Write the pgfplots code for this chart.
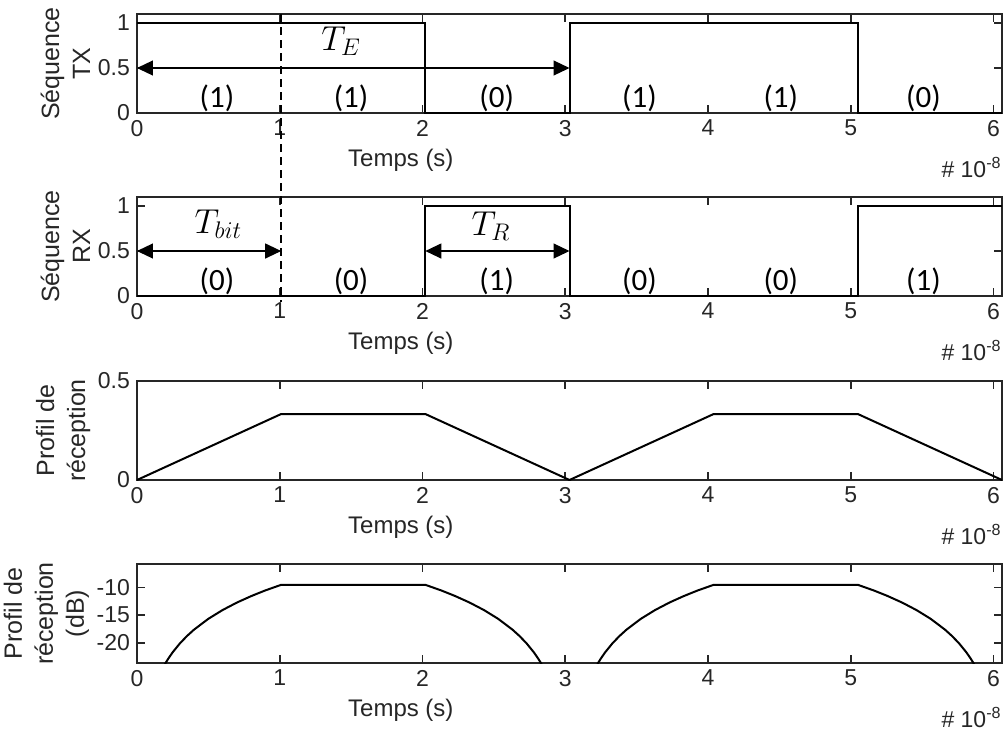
\documentclass[border=0pt]{standalone}
\usepackage{fontspec}
\setmainfont{Liberation Sans}
\newfontfamily\calibri{Carlito}
\usepackage{pgfplots}
\pgfplotsset{compat=1.18}
\usetikzlibrary{arrows.meta}

\definecolor{axgray}{RGB}{38,38,38}

\pgfplotsset{
  chrono/.style={
    scale only axis, width=432.5pt, height=49.5pt,
    anchor=south west,
    xmin=0, xmax=6.06, xtick={0,1,2,3,4,5,6},
    tick pos=both, tick align=inside, major tick length=4pt,
    axis line style={axgray, line width=1pt},
    every tick/.style={axgray, line width=0.8pt},
    tick label style={font=\fontsize{11.5}{13}\selectfont, text=axgray},
    /pgf/number format/assume math mode=true,
    xlabel={Temps (s)},
    xlabel style={at={(axis description cs:0.305,0)}, anchor=base, yshift=-26.75pt,
      font=\fontsize{12}{14}\selectfont, text=axgray},
    ylabel style={align=center, font=\fontsize{12.5}{15.5}\selectfont, text=axgray},
    ylabel shift=-3pt,
    clip mode=individual,
  },
}
\tikzset{
  sig/.style={black, line width=1pt, line join=miter},
  bit/.style={font=\calibri\fontsize{15.5}{18}\selectfont, anchor=base, inner sep=0pt},
  per/.style={font=\fontsize{17}{20}\selectfont, inner sep=0pt},
  dblarrow/.style={{Triangle[length=8pt,width=7.5pt]}-{Triangle[length=8pt,width=7.5pt]}, line width=0.6pt},
}
\newcommand{\expo}{\node[anchor=base east, inner sep=0pt, text=axgray,
  font=\fontsize{11.5}{13}\selectfont, yshift=-32pt] at (rel axis cs:1,0) {\#\;10\textsuperscript{-8}};}

\begin{document}
\begin{tikzpicture}
\path[use as bounding box] (0,0) rectangle (504pt,-364.5pt);

% sequence emise
\begin{axis}[chrono, at={(68.5pt,-56.5pt)},
  ymin=0, ymax=1.1, ytick={0,0.5,1},
  ylabel={Séquence\\TX}]
\addplot[sig] coordinates {(0,1) (2.02,1) (2.02,0) (3.03,0) (3.03,1) (5.05,1) (5.05,0) (6.06,0)};
\draw[dblarrow] (axis cs:0,0.5) -- (axis cs:3.03,0.5);
\node[per] at (axis cs:1.43,0.8) {$T_E$};
\node[bit] at (axis cs:0.56,0.066) {(1)};
\node[bit] at (axis cs:1.5,0.066) {(1)};
\node[bit] at (axis cs:2.52,0.066) {(0)};
\node[bit] at (axis cs:3.52,0.066) {(1)};
\node[bit] at (axis cs:4.51,0.066) {(1)};
\node[bit] at (axis cs:5.51,0.066) {(0)};
\coordinate (dtop) at (axis cs:1.01,1.1);
\expo
\end{axis}

% sequence recue
\begin{axis}[chrono, at={(68.5pt,-148pt)},
  ymin=0, ymax=1.1, ytick={0,0.5,1},
  ylabel={Séquence\\RX}]
\addplot[sig] coordinates {(0,0) (2.02,0) (2.02,1) (3.03,1) (3.03,0) (5.05,0) (5.05,1) (6.06,1)};
\draw[dblarrow] (axis cs:0,0.5) -- (axis cs:1.01,0.5);
\draw[dblarrow] (axis cs:2.02,0.5) -- (axis cs:3.03,0.5);
\node[per] at (axis cs:0.57,0.8) {$T_{bit}$};
\node[per] at (axis cs:2.48,0.78) {$T_R$};
\node[bit] at (axis cs:0.56,0.066) {(0)};
\node[bit] at (axis cs:1.5,0.066) {(0)};
\node[bit] at (axis cs:2.52,0.066) {(1)};
\node[bit] at (axis cs:3.52,0.066) {(0)};
\node[bit] at (axis cs:4.51,0.066) {(0)};
\node[bit] at (axis cs:5.51,0.066) {(1)};
\coordinate (dbot) at (axis cs:1.01,-0.07);
\expo
\end{axis}

\draw[black, line width=1pt, dash pattern=on 4pt off 2.5pt] (dtop) -- (dbot);

% profil lineaire
\begin{axis}[chrono, at={(68.5pt,-240pt)},
  ymin=0, ymax=0.5, ytick={0,0.5},
  ylabel={Profil de\\réception}]
\addplot[sig] coordinates {(0,0) (1.01,0.3333) (2.02,0.3333) (3.03,0) (4.04,0.3333) (5.05,0.3333) (6.06,0)};
\expo
\end{axis}

% profil en dB
\begin{axis}[chrono, at={(68.5pt,-331.5pt)},
  ymin=-23.6, ymax=-5.8, ytick={-20,-15,-10},
  ylabel={Profil de\\réception\\(dB)}]
\addplot[sig] coordinates {
  (0.15,-26.11) (0.2,-23.61) (0.22,-22.78) (0.25,-21.67) (0.3,-20.09) (0.35,-18.75)
  (0.4,-17.59) (0.5,-15.65) (0.6,-14.07) (0.7,-12.73) (0.8,-11.57) (0.9,-10.54)
  (1.01,-9.54) (2.02,-9.54)
  (2.13,-10.54) (2.23,-11.57) (2.33,-12.73) (2.43,-14.07) (2.53,-15.65) (2.63,-17.59)
  (2.68,-18.75) (2.73,-20.09) (2.78,-21.67) (2.81,-22.78) (2.83,-23.61) (2.88,-26.11)};
\addplot[sig] coordinates {
  (3.18,-26.11) (3.23,-23.61) (3.25,-22.78) (3.28,-21.67) (3.33,-20.09) (3.38,-18.75)
  (3.43,-17.59) (3.53,-15.65) (3.63,-14.07) (3.73,-12.73) (3.83,-11.57) (3.93,-10.54)
  (4.04,-9.54) (5.05,-9.54)
  (5.16,-10.54) (5.26,-11.57) (5.36,-12.73) (5.46,-14.07) (5.56,-15.65) (5.66,-17.59)
  (5.71,-18.75) (5.76,-20.09) (5.81,-21.67) (5.84,-22.78) (5.86,-23.61) (5.91,-26.11)};
\expo
\end{axis}
\end{tikzpicture}
\end{document}
